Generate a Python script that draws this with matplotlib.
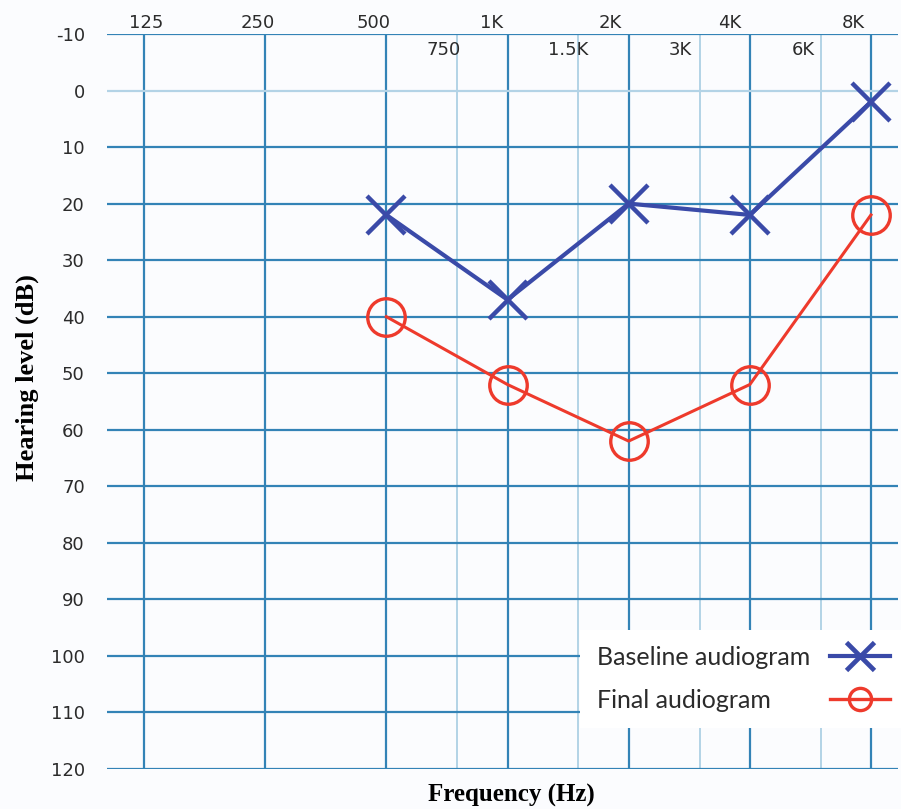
import matplotlib
matplotlib.use('Agg')
import matplotlib.pyplot as plt
import matplotlib.transforms as mtransforms

plt.rcParams['axes.unicode_minus'] = False

# ---- data ----
main_freqs = [125, 250, 500, 1000, 2000, 4000, 8000]
main_labels = ['125', '250', '500', '1K', '2K', '4K', '8K']
mid_freqs = [750, 1500, 3000, 6000]
mid_labels = ['750', '1.5K', '3K', '6K']
levels = list(range(-10, 121, 10))
test_freqs = [500, 1000, 2000, 4000, 8000]
baseline = [22, 37, 20, 22, 2]
final = [40, 52, 62, 52, 22]

# ---- style ----
BG = '#fbfcfe'
GRID_MAIN = '#3383b6'
GRID_LIGHT = '#b3d3e6'
BLUE = '#3a4aa8'
RED = '#ee3a2c'
TXT = '#2b2b2b'

W, H = 901, 809
fig = plt.figure(figsize=(W / 100, H / 100), dpi=100)
fig.patch.set_facecolor(BG)
left_px, right_px, top_px, bot_px = 107, 898, 34, 769
ax = fig.add_axes([left_px / W, 1 - bot_px / H, (right_px - left_px) / W, (bot_px - top_px) / H])
ax.set_facecolor(BG)
ax.set_xscale('log', base=2)
oct_px = 121.0
ax.set_xlim(125 * 2 ** ((left_px - 144) / oct_px), 8000 * 2 ** ((right_px - 871) / oct_px))
ax.set_ylim(120, -10)

ax.set_xticks(main_freqs)
ax.set_xticks(mid_freqs, minor=True)
ax.set_yticks(levels)
ax.xaxis.set_major_formatter(matplotlib.ticker.NullFormatter())
ax.xaxis.set_minor_formatter(matplotlib.ticker.NullFormatter())
ax.tick_params(which='both', length=0, labelbottom=False, labeltop=False)
ax.tick_params(axis='y', pad=16, labelsize=13, labelcolor=TXT)
for lab in ax.get_yticklabels():
    lab.set_family('DejaVu Sans')

ax.grid(True, which='major', axis='both', color=GRID_MAIN, lw=1.6)
ax.grid(True, which='minor', axis='x', color=GRID_LIGHT, lw=1.4)
for t, v in zip(ax.yaxis.get_major_ticks(), levels):
    if v == 0:
        t.gridline.set_color(GRID_LIGHT)
for s in ax.spines.values():
    s.set_visible(False)
ax.set_axisbelow(True)

# frequency labels
main_dx = [2, -7, -13, -16, -18, -20, -18]
for f, lab, dx in zip(main_freqs, main_labels, main_dx):
    tr = ax.get_xaxis_transform() + mtransforms.ScaledTranslation(dx / 100, 11 / 100, fig.dpi_scale_trans)
    ax.text(f, 1, lab, transform=tr, ha='center', va='center', fontsize=13, color=TXT, family='DejaVu Sans')
mid_dx = [-14, -10, -19, -17]
for f, lab, dx in zip(mid_freqs, mid_labels, mid_dx):
    tr = ax.get_xaxis_transform() + mtransforms.ScaledTranslation(dx / 100, -16 / 100, fig.dpi_scale_trans)
    ax.text(f, 1, lab, transform=tr, ha='center', va='center', fontsize=13, color=TXT, family='DejaVu Sans')

# series
ax.plot(test_freqs, baseline, color=BLUE, lw=3, marker='x', ms=28, mew=3.2,
        label='Baseline audiogram', zorder=4)
ax.plot(test_freqs, final, color=RED, lw=2.2, marker='o', ms=27, mew=2.4,
        fillstyle='none', label='Final audiogram', zorder=3)

leg = ax.legend(loc='lower right', bbox_to_anchor=(906 / W, 1 - 728 / H),
                bbox_transform=fig.transFigure, borderaxespad=0, markerfirst=False,
                frameon=True, facecolor='white', edgecolor='none', framealpha=1,
                fancybox=False, handlelength=2.4,
                prop={'family': 'Lato', 'size': 18}, labelspacing=0.8,
                borderpad=0.65, handletextpad=0.8)
leg.set_zorder(6)
for t in leg.get_texts():
    t.set_color(TXT)
leg.legend_handles[0].set_markersize(20)
leg.legend_handles[0].set_linewidth(3)
leg.legend_handles[0].set_markeredgewidth(3.4)
leg.legend_handles[1].set_markersize(16)
leg.legend_handles[1].set_linewidth(2.4)

ax.set_xlabel('Frequency (Hz)', family='Liberation Serif', weight='bold', fontsize=18,
              color='black')
ax.xaxis.set_label_coords((511 - left_px) / (right_px - left_px), -(795 - bot_px) / (bot_px - top_px))
ax.xaxis.label.set_va('center')
ax.set_ylabel('Hearing level (dB)', family='Liberation Serif', weight='bold', fontsize=19,
              color='black')
ax.yaxis.set_label_coords(-(left_px - 27) / (right_px - left_px), (bot_px - 378) / (bot_px - top_px))
ax.yaxis.label.set_va('center')

# left-align legend texts while keeping handles at the right
fig.canvas.draw()
r = fig.canvas.get_renderer()
widths = [t.get_window_extent(r).width for t in leg.get_texts()]
col = leg._legend_handle_box.get_children()[0]
for row, wi in zip(col.get_children(), widths):
    row.sep += (max(widths) - wi) * 72 / fig.dpi

fig.savefig('out.png', dpi=100, facecolor=BG)
